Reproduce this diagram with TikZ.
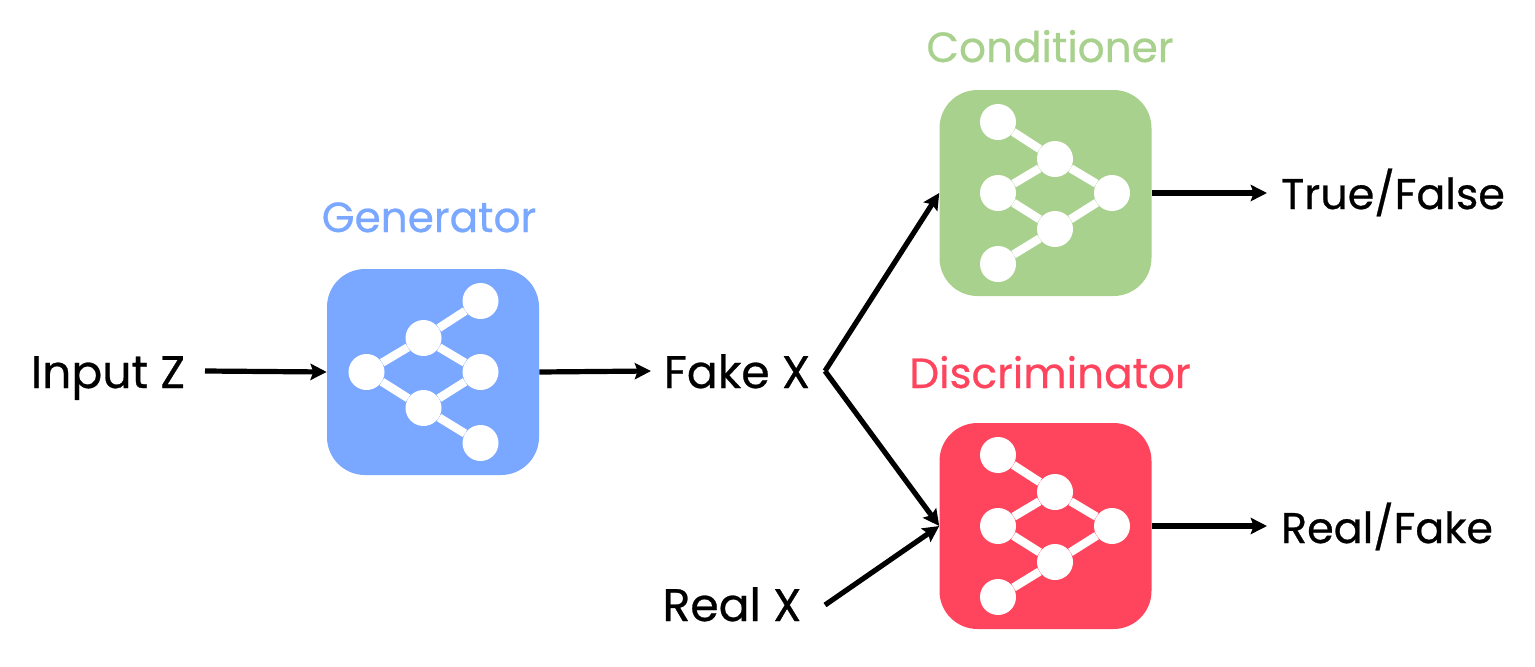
\documentclass[tikz,border=0pt]{standalone}
\usepackage{fontspec}
\setmainfont{Poppins}[RawFeature={embolden=0.6}]
\usepackage{xcolor}
\usetikzlibrary{arrows.meta}
\definecolor{GenBlue}{HTML}{7AA7FF}
\definecolor{CondGreen}{HTML}{A9D18E}
\definecolor{DiscRed}{HTML}{FF455E}

\begin{document}
\begin{tikzpicture}[
  x=0.025cm, y=-0.025cm,
  >={Stealth[length=11.5pt,width=11.5pt,inset=2pt]},
  netbox/.style={rectangle, rounded corners=27pt, minimum width=212*0.025cm, minimum height=206*0.025cm, inner sep=0pt},
  dot/.style={circle, fill=white, minimum size=36*0.025cm, inner sep=0pt},
  link/.style={draw=white, line width=6pt},
  flow/.style={->, line width=3.7pt, black},
  label/.style={font=\fontsize{32.5}{36}\selectfont, inner sep=0pt, anchor=base},
  output/.style={font=\fontsize{30.5}{36}\selectfont, inner sep=0pt, anchor=base},
  title/.style={font=\fontsize{30}{34}\selectfont, inner sep=0pt, anchor=base},
  net/.pic={
    \node[dot] (-a) at (-47.5,-71) {};
    \node[dot] (-b) at (9.5,-34) {};
    \node[dot] (-c) at (-47.5,0) {};
    \node[dot] (-d) at (66.5,0) {};
    \node[dot] (-e) at (9.5,36) {};
    \node[dot] (-f) at (-47.5,71) {};
    \draw[link] (-a) -- (-b) -- (-d) -- (-e) -- (-f);
    \draw[link] (-c) -- (-b);
    \draw[link] (-c) -- (-e);
  },
]
\useasboundingbox (0,0) rectangle (1535,666);

% Boxes
\node[netbox, fill=GenBlue] (G) at (433,372) {};
\node[netbox, fill=CondGreen] (C) at (1045.5,193) {};
\node[netbox, fill=DiscRed] (D) at (1045.5,526) {};
\pic[xscale=-1] (gnet) at (G) {net};
\pic (cnet) at (C) {net};
\pic (dnet) at (D) {net};

% Titles
\node[title, text=GenBlue] (Gt) at (429,232) {Generator};
\node[title, text=CondGreen] (Ct) at (1050,62) {Conditioner};
\node[title, text=DiscRed] (Dt) at (1050,388) {Discriminator};

% Labels
\node[label] (Z) at (108,388) {Input Z};
\node[label] (FX) at (737,388) {Fake X};
\node[label] (RX) at (732,621) {Real X};
\node[output] (TF) at (1393,209) {True/False};
\node[output] (RF) at (1387,543) {Real/Fake};

% Arrow ends
\coordinate (Zr) at (205,371);
\coordinate (FXl) at (651,371);
\coordinate (fork) at (825,371);
\coordinate (RXr) at (825,605);
\coordinate (TFl) at (1267,193);
\coordinate (RFl) at (1267,526);

% Arrows
\draw[flow] (Zr) -- (G.west);
\draw[flow] (G.east) -- (FXl);
\draw[flow] (fork) -- (C.west);
\draw[flow] (fork) -- (D.west);
\draw[flow] (RXr) -- (D.west);
\draw[flow] (C.east) -- (TFl);
\draw[flow] (D.east) -- (RFl);
\end{tikzpicture}
\end{document}
